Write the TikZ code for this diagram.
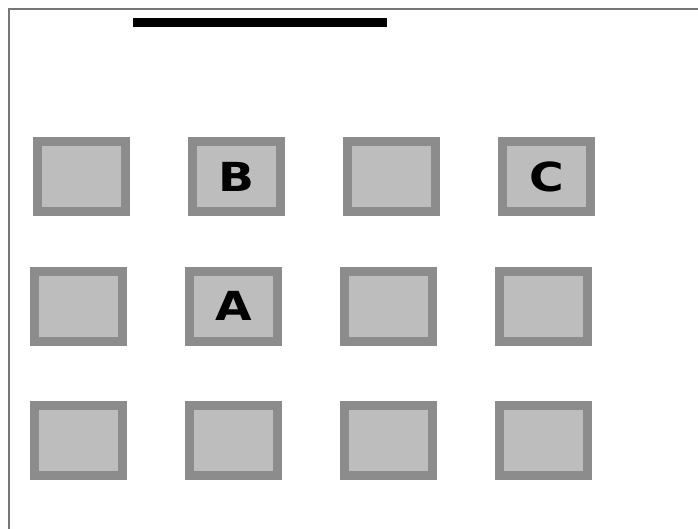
\documentclass[tikz,border=0pt]{standalone}
\usepackage{graphicx}
\usepackage{fontspec}
\setmainfont{DejaVu Sans}
\newcommand{\widelabel}[1]{\scalebox{1.18}[1]{#1}}
\begin{document}
\begin{tikzpicture}[x=1pt,y=-1pt,
  cell/.style={draw=boxedge,fill=boxfill,line width=9pt,minimum width=88pt,minimum height=70pt,inner sep=0pt,
    font=\fontsize{40}{40}\selectfont\bfseries,text=black},
  frameline/.style={draw=framegray,line width=2.2pt}]
\definecolor{boxedge}{HTML}{8C8C8C}
\definecolor{boxfill}{HTML}{BDBDBD}
\definecolor{framegray}{HTML}{777777}
\useasboundingbox (0,0) rectangle (698,529);
\fill[white] (0,0) rectangle (698,529);
\coordinate (fb) at (9,529);
\coordinate (fc) at (9,9);
\coordinate (fr) at (698,9);
\draw[frameline] (fb) -- (fc) -- (fr);
\coordinate (bl) at (133,23);
\coordinate (br) at (387,23);
\draw[line width=9pt,black] (bl) -- (br);
% row 1
\node[cell] (r1c1) at (81.5,176.5) {};
\node[cell] (r1c2) at (236.5,176.5) {\widelabel{B}};
\node[cell] (r1c3) at (391.5,176.5) {};
\node[cell] (r1c4) at (546.5,176.5) {\widelabel{C}};
% row 2
\node[cell] (r2c1) at (78.5,306) {};
\node[cell] (r2c2) at (233.5,306) {\widelabel{A}};
\node[cell] (r2c3) at (388.5,306) {};
\node[cell] (r2c4) at (543.5,306) {};
% row 3
\node[cell] (r3c1) at (78.5,440.5) {};
\node[cell] (r3c2) at (233.5,440.5) {};
\node[cell] (r3c3) at (388.5,440.5) {};
\node[cell] (r3c4) at (543.5,440.5) {};
\end{tikzpicture}
\end{document}
